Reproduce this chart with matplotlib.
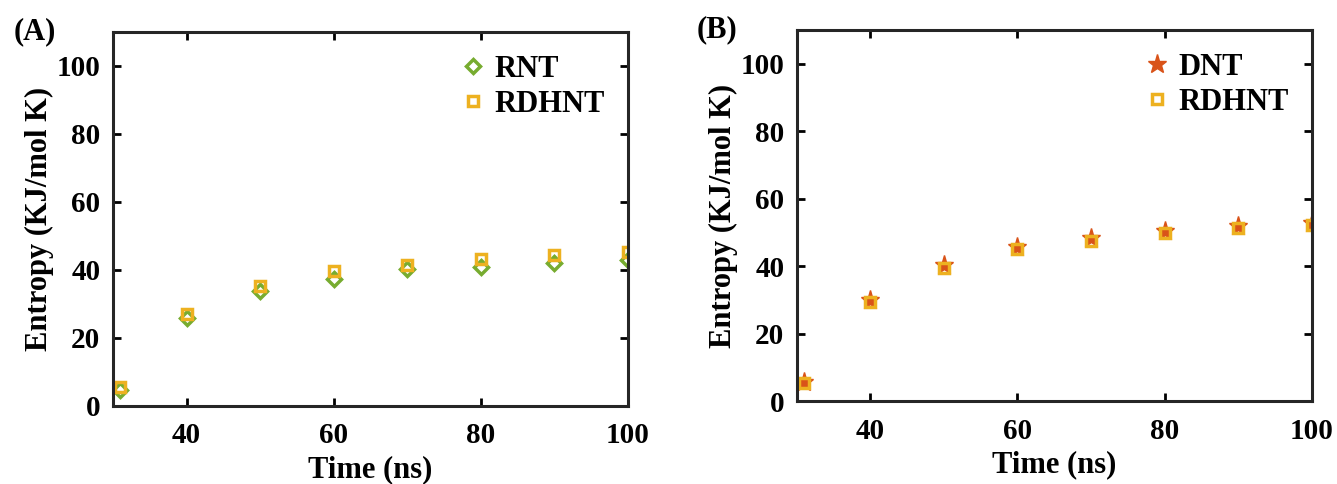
import matplotlib
matplotlib.use('Agg')
import matplotlib.pyplot as plt

# 시간 (ns)
time_ns = [31, 40, 50, 60, 70, 80, 90, 100]

# (A) 엔트로피
rnt = [4.7, 25.8, 33.6, 37.4, 40.2, 40.7, 41.9, 42.9]
rdhnt_a = [5.4, 27.0, 35.3, 39.7, 41.4, 43.3, 44.4, 45.3]

# (B) 엔트로피
dnt = [5.8, 30.0, 40.5, 45.7, 48.5, 50.3, 51.8, 52.8]
rdhnt_b = [5.4, 29.4, 39.6, 45.0, 47.6, 49.8, 51.2, 52.2]

green = '#77AC30'
yellow = '#EDB120'
red = '#D95319'

plt.rcParams['font.family'] = ['Liberation Serif', 'DejaVu Serif']
plt.rcParams['font.weight'] = 'bold'
plt.rcParams['font.size'] = 21

fig = plt.figure(figsize=(13.37, 4.84), dpi=100)
axA = fig.add_axes([0.0845, 0.162, 0.3852, 0.772])
axB = fig.add_axes([0.596, 0.171, 0.385, 0.767])

axA.plot(time_ns, rnt, 'D', ms=7, mfc='none', mec=green, mew=2.5, label='RNT')
axA.plot(time_ns, rdhnt_a, 's', ms=7, mfc='none', mec=yellow, mew=2.5, label='RDHNT')

axB.plot(time_ns, dnt, '*', ms=14, color=red, label='DNT')
axB.plot(time_ns, rdhnt_b, 's', ms=7, mfc='none', mec=yellow, mew=2.5, label='RDHNT')

for ax in (axA, axB):
    ax.set_xlim(30, 100)
    ax.set_ylim(0, 110)
    ax.set_xticks([40, 60, 80, 100])
    ax.set_yticks([0, 20, 40, 60, 80, 100])
    ax.tick_params(axis='both', direction='in', length=6, width=2, top=True, right=True,
                   labelsize=21)
    ax.tick_params(axis='x', pad=12)
    ax.tick_params(axis='y', pad=9)
    for s in ax.spines.values():
        s.set_linewidth(2.2)
        s.set_color('#262626')
    ax.set_xlabel('Time (ns)', fontsize=22, fontweight='bold', labelpad=4)
    ax.set_ylabel('Entropy (KJ/mol K)', fontsize=22, fontweight='bold', labelpad=2)
    ax.legend(loc='upper right', frameon=False, handletextpad=0.2,
              borderaxespad=0.35, labelspacing=0.2, handlelength=1.0,
              prop={'weight': 'bold', 'size': 22})

fig.text(0.010, 0.919, '(A)', fontsize=22, fontweight='bold', va='baseline')
fig.text(0.521, 0.923, '(B)', fontsize=22, fontweight='bold', va='baseline')

fig.savefig('out.png', dpi=100)
